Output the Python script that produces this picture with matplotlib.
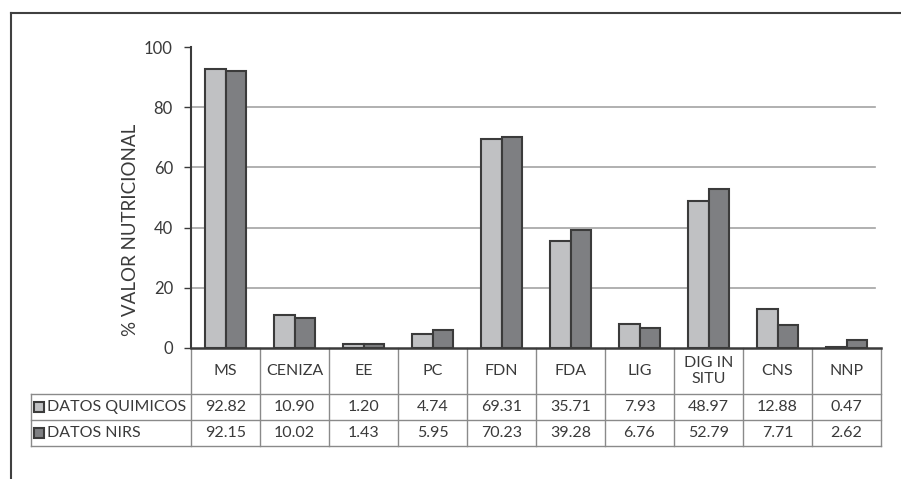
import matplotlib.pyplot as plt
from matplotlib.lines import Line2D
from matplotlib.patches import Rectangle
import numpy as np

categories = ['MS', 'CENIZA', 'EE', 'PC', 'FDN', 'FDA', 'LIG', 'DIG IN\nSITU', 'CNS', 'NNP']
quimicos = [92.82, 10.90, 1.20, 4.74, 69.31, 35.71, 7.93, 48.97, 12.88, 0.47]
nirs = [92.15, 10.02, 1.43, 5.95, 70.23, 39.28, 6.76, 52.79, 7.71, 2.62]
series_names = ['DATOS QUIMICOS', 'DATOS NIRS']

light = '#c0c1c3'
dark = '#7e7f82'
edge = '#3b3b3b'
txt = '#3a3a3a'

plt.rcParams['font.family'] = ['Lato', 'DejaVu Sans']

fig = plt.figure(figsize=(9.01, 4.79), dpi=100)
W, H = 901, 479
ax = fig.add_axes([191 / W, (H - 348) / H, 690 / W, 301 / H])

x = np.arange(len(categories))
w = 0.3
ax.bar(x - w / 2, quimicos, w, color=light, edgecolor=edge, linewidth=1.5, zorder=3)
ax.bar(x + w / 2, nirs, w, color=dark, edgecolor=edge, linewidth=1.5, zorder=3)

ax.set_xlim(-0.5, len(categories) - 0.5)
ax.set_ylim(0, 100)
ax.set_yticks([0, 20, 40, 60, 80, 100])
for yv in [20, 40, 60, 80]:
    ax.axhline(yv, xmin=0, xmax=684 / 690, color='#a3a3a3', linewidth=1.2, zorder=1)
ax.set_xticks([])
ax.tick_params(axis='y', labelsize=12, colors=txt, length=5, width=1, pad=8)
for s in ['top', 'right']:
    ax.spines[s].set_visible(False)
ax.spines['left'].set_color(edge)
ax.spines['left'].set_linewidth(1.5)
ax.spines['bottom'].set_color(edge)
ax.spines['bottom'].set_linewidth(1.8)
ax.set_ylabel('% VALOR NUTRICIONAL', fontsize=13.5, color=txt)
ax.yaxis.set_label_coords((139 - 191) / 690, (348 - 230) / 301)

# data table under the axes
tr = ax.get_xaxis_transform()
hy = [0, -46 / 301, -72 / 301, -98 / 301]
left_x = (31 - 191) / 69 - 0.5
lc = '#8a8a8a'
for i in range(len(categories) + 1):
    ax.add_line(Line2D([i - 0.5, i - 0.5], [0, hy[3]], transform=tr, color=lc, lw=1, clip_on=False))
for yy in hy[1:]:
    ax.add_line(Line2D([left_x, len(categories) - 0.5], [yy, yy], transform=tr, color=lc, lw=1, clip_on=False))
ax.add_line(Line2D([left_x, left_x], [hy[1], hy[3]], transform=tr, color=lc, lw=1, clip_on=False))

for i, c in enumerate(categories):
    ax.text(i, (hy[0] + hy[1]) / 2, c, transform=tr, ha='center', va='center',
            fontsize=11.5, color=txt, linespacing=1.1)
    ax.text(i, (hy[1] + hy[2]) / 2, f'{quimicos[i]:.2f}', transform=tr, ha='center', va='center',
            fontsize=11.5, color=txt)
    ax.text(i, (hy[2] + hy[3]) / 2, f'{nirs[i]:.2f}', transform=tr, ha='center', va='center',
            fontsize=11.5, color=txt)

for k, (name, col) in enumerate(zip(series_names, [light, dark])):
    yc = (hy[k + 1] + hy[k + 2]) / 2
    yc_px = 407 + 26 * k
    fig.patches.append(Rectangle((34 / W, 1 - (yc_px + 5) / H), 10 / W, 10 / H,
                                 transform=fig.transFigure, facecolor=col, edgecolor=edge, lw=1.5))
    ax.text(left_x + 16 / 69, yc, name, transform=tr, ha='left', va='center', fontsize=11.5, color=txt)

# outer frame (top and left)
fig.add_artist(Line2D([11 / W, 1], [1 - 13 / H, 1 - 13 / H], transform=fig.transFigure, color='#404040', lw=1.5))
fig.add_artist(Line2D([11 / W, 11 / W], [0, 1 - 13 / H], transform=fig.transFigure, color='#404040', lw=1.5))

fig.savefig('out.png', dpi=100)
